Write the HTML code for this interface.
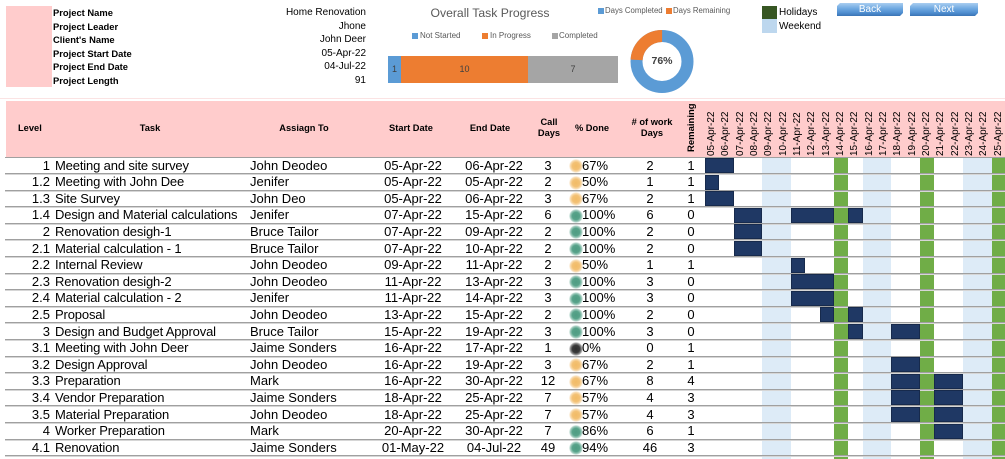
<!DOCTYPE html>
<html><head><meta charset="utf-8">
<style>
html,body{margin:0;padding:0;}
body{width:1005px;height:458px;overflow:hidden;position:relative;background:#fff;font-family:"Liberation Sans",Arial,sans-serif;color:#000;}
.a{position:absolute;white-space:nowrap;}
.pl{position:absolute;left:53px;font-size:9.4px;font-weight:bold;line-height:12px;}
.pv{position:absolute;left:250px;width:116px;text-align:right;font-size:10px;line-height:12px;}
.lg{position:absolute;font-size:8px;color:#595959;line-height:10px;white-space:nowrap;}
.sq{position:absolute;width:6px;height:6px;}
.hd{position:absolute;font-size:9.3px;font-weight:bold;line-height:11px;text-align:center;white-space:nowrap;}
.dh{position:absolute;top:103px;width:14.33px;height:53px;writing-mode:vertical-rl;transform:rotate(180deg);font-size:10px;line-height:14.33px;text-align:left;white-space:nowrap;}
.wk{position:absolute;top:157.5px;height:301px;width:28.66px;background:#DDEBF7;}
.hol{position:absolute;top:157.5px;height:301px;width:14.33px;background:#70AD47;}
.r{position:absolute;left:0;width:1005px;height:16.6px;font-size:13px;line-height:16px;}
.r::after{content:"";position:absolute;left:5px;right:0;bottom:0;height:1px;background:#a0a0a0;box-shadow:0 1px 0 #d6d6d6;}
.r span{position:absolute;top:0;white-space:nowrap;}
.lv{left:0;width:50px;text-align:right;}
.tk{left:55px;letter-spacing:-0.15px;}
.as{left:250px;}
.sd{left:373px;width:80px;text-align:center;}
.ed{left:454px;width:80px;text-align:center;}
.cd{left:528px;width:40px;text-align:center;}
.pd{left:582px;}
.wd{left:630px;width:40px;text-align:center;}
.rm{left:676px;width:30px;text-align:center;}
.dot{position:absolute;left:569px;top:1.5px;width:14px;height:14px;border-radius:50%;}
.y{background:radial-gradient(circle,#f1bb66 0%,#f3c175 38%,rgba(243,193,117,.55) 58%,rgba(243,193,117,0) 72%);}
.g{background:radial-gradient(circle,#4f9c82 0%,#57a38a 38%,rgba(87,163,138,.55) 58%,rgba(87,163,138,0) 72%);}
.k{background:radial-gradient(circle,#2e2e2e 0%,#3a3a3a 38%,rgba(58,58,58,.55) 58%,rgba(58,58,58,0) 72%);}
.b{position:absolute;top:0.6px;height:15px;background:#1F3864;box-shadow:inset 0 0 0 1px #172a4c;}
.btn{position:absolute;top:3px;height:13px;background:linear-gradient(to bottom,#a9cdf0 0%,#72abe2 40%,#4f8ed0 75%,#3a74b5 100%);color:#fff;font-size:10px;line-height:13px;text-align:center;box-shadow:1px 1px 2px rgba(0,0,0,.45);clip-path:polygon(3px 0,100% 0,100% calc(100% - 3px),calc(100% - 3px) 100%,0 100%,0 3px);}
</style></head><body>

<div class="a" style="left:6px;top:6px;width:46px;height:81px;background:#FFCCCC;"></div>
<div class="pl" style="top:7px;">Project Name</div>
<div class="pl" style="top:20.5px;">Project Leader</div>
<div class="pl" style="top:34px;">Client's Name</div>
<div class="pl" style="top:47.5px;">Project Start Date</div>
<div class="pl" style="top:61px;">Project End Date</div>
<div class="pl" style="top:74.5px;">Project Length</div>
<div class="pv" style="top:7px;">Home Renovation</div>
<div class="pv" style="top:20.5px;">Jhone</div>
<div class="pv" style="top:34px;">John Deer</div>
<div class="pv" style="top:47.5px;">05-Apr-22</div>
<div class="pv" style="top:61px;">04-Jul-22</div>
<div class="pv" style="top:74.5px;">91</div>

<div class="a" style="left:420px;top:6px;width:140px;text-align:center;font-size:12.2px;color:#595959;line-height:15px;">Overall Task Progress</div>
<div class="sq" style="left:412px;top:33px;background:#5B9BD5;"></div>
<div class="lg" style="left:420px;top:31px;">Not Started</div>
<div class="sq" style="left:482px;top:33px;background:#ED7D31;"></div>
<div class="lg" style="left:490px;top:31px;">In Progress</div>
<div class="sq" style="left:552px;top:33px;background:#A5A5A5;"></div>
<div class="lg" style="left:559px;top:31px;">Completed</div>
<div class="a" style="left:388px;top:56px;width:13px;height:27px;background:#5B9BD5;"></div>
<div class="a" style="left:401px;top:56px;width:127px;height:27px;background:#ED7D31;"></div>
<div class="a" style="left:528px;top:56px;width:90px;height:27px;background:#A5A5A5;"></div>
<div class="a" style="left:388px;top:64px;width:13px;text-align:center;font-size:9px;color:#404040;line-height:11px;">1</div>
<div class="a" style="left:401px;top:64px;width:127px;text-align:center;font-size:9px;color:#404040;line-height:11px;">10</div>
<div class="a" style="left:528px;top:64px;width:90px;text-align:center;font-size:9px;color:#404040;line-height:11px;">7</div>

<div class="sq" style="left:598px;top:8px;background:#5B9BD5;"></div>
<div class="lg" style="left:605px;top:6px;font-size:7.8px;">Days Completed</div>
<div class="sq" style="left:666px;top:8px;background:#ED7D31;"></div>
<div class="lg" style="left:673px;top:6px;font-size:7.8px;">Days Remaining</div>
<svg class="a" style="left:0;top:0;" width="1005" height="100" viewBox="0 0 1005 100">
<circle cx="662" cy="61.5" r="25.5" fill="none" stroke="#5B9BD5" stroke-width="12"/>
<circle cx="662" cy="61.5" r="25.5" fill="none" stroke="#ED7D31" stroke-width="12" stroke-dasharray="38.45 200" transform="rotate(183.6 662 61.5)"/>
</svg>
<div class="a" style="left:642px;top:55px;width:40px;text-align:center;font-size:10.5px;font-weight:bold;color:#404040;line-height:12px;">76%</div>

<div class="a" style="left:762px;top:6px;width:15px;height:13px;background:#375623;"></div>
<div class="a" style="left:762px;top:19px;width:15px;height:14px;background:#BDD7EE;"></div>
<div class="a" style="left:779px;top:7px;font-size:10px;line-height:12px;">Holidays</div>
<div class="a" style="left:779px;top:21px;font-size:10px;line-height:12px;">Weekend</div>

<div class="btn" style="left:837px;width:66px;">Back</div>
<div class="btn" style="left:910px;width:68px;">Next</div>

<div class="a" style="left:0;top:98px;width:1005px;height:1px;background:#fbe3e3;"></div>

<div class="a" style="left:6px;top:101px;width:999px;height:56.5px;background:#FFCCCC;"></div>
<div class="hd" style="left:18px;top:123px;">Level</div>
<div class="hd" style="left:120px;top:123px;width:60px;">Task</div>
<div class="hd" style="left:264px;top:123px;width:80px;">Assiagn To</div>
<div class="hd" style="left:371px;top:123px;width:80px;">Start Date</div>
<div class="hd" style="left:450px;top:123px;width:80px;">End Date</div>
<div class="hd" style="left:529px;top:117px;width:40px;">Call<br>Days</div>
<div class="hd" style="left:567px;top:123px;width:50px;">% Done</div>
<div class="hd" style="left:617px;top:117px;width:70px;">#&nbsp;of work<br>Days</div>
<div class="dh" style="left:684px;top:101px;height:51px;width:16px;line-height:16px;font-size:9.5px;font-weight:bold;">Remaining</div>

<div class="dh" style="left:705px;">05-Apr-22</div>
<div class="dh" style="left:719.33px;">06-Apr-22</div>
<div class="dh" style="left:733.66px;">07-Apr-22</div>
<div class="dh" style="left:747.99px;">08-Apr-22</div>
<div class="dh" style="left:762.32px;">09-Apr-22</div>
<div class="dh" style="left:776.65px;">10-Apr-22</div>
<div class="dh" style="left:790.98px;">11-Apr-22</div>
<div class="dh" style="left:805.31px;">12-Apr-22</div>
<div class="dh" style="left:819.64px;">13-Apr-22</div>
<div class="dh" style="left:833.97px;">14-Apr-22</div>
<div class="dh" style="left:848.3px;">15-Apr-22</div>
<div class="dh" style="left:862.63px;">16-Apr-22</div>
<div class="dh" style="left:876.96px;">17-Apr-22</div>
<div class="dh" style="left:891.29px;">18-Apr-22</div>
<div class="dh" style="left:905.62px;">19-Apr-22</div>
<div class="dh" style="left:919.95px;">20-Apr-22</div>
<div class="dh" style="left:934.28px;">21-Apr-22</div>
<div class="dh" style="left:948.61px;">22-Apr-22</div>
<div class="dh" style="left:962.94px;">23-Apr-22</div>
<div class="dh" style="left:977.27px;">24-Apr-22</div>
<div class="dh" style="left:991.6px;">25-Apr-22</div>

<div class="wk" style="left:762.32px;"></div>
<div class="wk" style="left:862.63px;"></div>
<div class="wk" style="left:962.94px;"></div>
<div class="hol" style="left:833.97px;"></div>
<div class="hol" style="left:919.95px;"></div>
<div class="hol" style="left:991.6px;"></div>

<div class="a" style="left:5px;top:156.8px;width:1000px;height:1px;background:#a0a0a0;"></div>

<div class="r" style="top:157.5px;"><span class="lv">1</span><span class="tk">Meeting and site survey</span><span class="as">John Deodeo</span><span class="sd">05-Apr-22</span><span class="ed">06-Apr-22</span><span class="cd">3</span><i class="dot y"></i><span class="pd">67%</span><span class="wd">2</span><span class="rm">1</span>
<i class="b" style="left:705px;width:28.66px;"></i></div>

<div class="r" style="top:174.1px;"><span class="lv">1.2</span><span class="tk">Meeting with John Dee</span><span class="as">Jenifer</span><span class="sd">05-Apr-22</span><span class="ed">05-Apr-22</span><span class="cd">2</span><i class="dot y"></i><span class="pd">50%</span><span class="wd">1</span><span class="rm">1</span>
<i class="b" style="left:705px;width:14.33px;"></i></div>

<div class="r" style="top:190.7px;"><span class="lv">1.3</span><span class="tk">Site Survey</span><span class="as">John Deo</span><span class="sd">05-Apr-22</span><span class="ed">06-Apr-22</span><span class="cd">3</span><i class="dot y"></i><span class="pd">67%</span><span class="wd">2</span><span class="rm">1</span>
<i class="b" style="left:705px;width:28.66px;"></i></div>

<div class="r" style="top:207.3px;"><span class="lv">1.4</span><span class="tk">Design and Material calculations</span><span class="as">Jenifer</span><span class="sd">07-Apr-22</span><span class="ed">15-Apr-22</span><span class="cd">6</span><i class="dot g"></i><span class="pd">100%</span><span class="wd">6</span><span class="rm">0</span>
<i class="b" style="left:733.66px;width:28.66px;"></i><i class="b" style="left:790.98px;width:43px;"></i><i class="b" style="left:848.3px;width:14.33px;"></i></div>

<div class="r" style="top:223.9px;"><span class="lv">2</span><span class="tk">Renovation desigh-1</span><span class="as">Bruce Tailor</span><span class="sd">07-Apr-22</span><span class="ed">09-Apr-22</span><span class="cd">2</span><i class="dot g"></i><span class="pd">100%</span><span class="wd">2</span><span class="rm">0</span>
<i class="b" style="left:733.66px;width:28.66px;"></i></div>

<div class="r" style="top:240.5px;"><span class="lv">2.1</span><span class="tk">Material calculation - 1</span><span class="as">Bruce Tailor</span><span class="sd">07-Apr-22</span><span class="ed">10-Apr-22</span><span class="cd">2</span><i class="dot g"></i><span class="pd">100%</span><span class="wd">2</span><span class="rm">0</span>
<i class="b" style="left:733.66px;width:28.66px;"></i></div>

<div class="r" style="top:257.1px;"><span class="lv">2.2</span><span class="tk">Internal Review</span><span class="as">John Deodeo</span><span class="sd">09-Apr-22</span><span class="ed">11-Apr-22</span><span class="cd">2</span><i class="dot y"></i><span class="pd">50%</span><span class="wd">1</span><span class="rm">1</span>
<i class="b" style="left:790.98px;width:14.33px;"></i></div>

<div class="r" style="top:273.7px;"><span class="lv">2.3</span><span class="tk">Renovation desigh-2</span><span class="as">John Deodeo</span><span class="sd">11-Apr-22</span><span class="ed">13-Apr-22</span><span class="cd">3</span><i class="dot g"></i><span class="pd">100%</span><span class="wd">3</span><span class="rm">0</span>
<i class="b" style="left:790.98px;width:43px;"></i></div>

<div class="r" style="top:290.3px;"><span class="lv">2.4</span><span class="tk">Material calculation - 2</span><span class="as">Jenifer</span><span class="sd">11-Apr-22</span><span class="ed">14-Apr-22</span><span class="cd">3</span><i class="dot g"></i><span class="pd">100%</span><span class="wd">3</span><span class="rm">0</span>
<i class="b" style="left:790.98px;width:43px;"></i></div>

<div class="r" style="top:306.9px;"><span class="lv">2.5</span><span class="tk">Proposal</span><span class="as">John Deodeo</span><span class="sd">13-Apr-22</span><span class="ed">15-Apr-22</span><span class="cd">2</span><i class="dot g"></i><span class="pd">100%</span><span class="wd">2</span><span class="rm">0</span>
<i class="b" style="left:819.64px;width:14.33px;"></i><i class="b" style="left:848.3px;width:14.33px;"></i></div>

<div class="r" style="top:323.5px;"><span class="lv">3</span><span class="tk">Design and Budget Approval</span><span class="as">Bruce Tailor</span><span class="sd">15-Apr-22</span><span class="ed">19-Apr-22</span><span class="cd">3</span><i class="dot g"></i><span class="pd">100%</span><span class="wd">3</span><span class="rm">0</span>
<i class="b" style="left:848.3px;width:14.33px;"></i><i class="b" style="left:891.29px;width:28.66px;"></i></div>

<div class="r" style="top:340.1px;"><span class="lv">3.1</span><span class="tk">Meeting with John Deer</span><span class="as">Jaime Sonders</span><span class="sd">16-Apr-22</span><span class="ed">17-Apr-22</span><span class="cd">1</span><i class="dot k"></i><span class="pd">0%</span><span class="wd">0</span><span class="rm">1</span></div>

<div class="r" style="top:356.7px;"><span class="lv">3.2</span><span class="tk">Design Approval</span><span class="as">John Deodeo</span><span class="sd">16-Apr-22</span><span class="ed">19-Apr-22</span><span class="cd">3</span><i class="dot y"></i><span class="pd">67%</span><span class="wd">2</span><span class="rm">1</span>
<i class="b" style="left:891.29px;width:28.66px;"></i></div>

<div class="r" style="top:373.3px;"><span class="lv">3.3</span><span class="tk">Preparation</span><span class="as">Mark</span><span class="sd">16-Apr-22</span><span class="ed">30-Apr-22</span><span class="cd">12</span><i class="dot y"></i><span class="pd">67%</span><span class="wd">8</span><span class="rm">4</span>
<i class="b" style="left:891.29px;width:28.66px;"></i><i class="b" style="left:934.28px;width:28.66px;"></i></div>

<div class="r" style="top:389.9px;"><span class="lv">3.4</span><span class="tk">Vendor Preparation</span><span class="as">Jaime Sonders</span><span class="sd">18-Apr-22</span><span class="ed">25-Apr-22</span><span class="cd">7</span><i class="dot y"></i><span class="pd">57%</span><span class="wd">4</span><span class="rm">3</span>
<i class="b" style="left:891.29px;width:28.66px;"></i><i class="b" style="left:934.28px;width:28.66px;"></i></div>

<div class="r" style="top:406.5px;"><span class="lv">3.5</span><span class="tk">Material Preparation</span><span class="as">John Deodeo</span><span class="sd">18-Apr-22</span><span class="ed">25-Apr-22</span><span class="cd">7</span><i class="dot y"></i><span class="pd">57%</span><span class="wd">4</span><span class="rm">3</span>
<i class="b" style="left:891.29px;width:28.66px;"></i><i class="b" style="left:934.28px;width:28.66px;"></i></div>

<div class="r" style="top:423.1px;"><span class="lv">4</span><span class="tk">Worker Preparation</span><span class="as">Mark</span><span class="sd">20-Apr-22</span><span class="ed">30-Apr-22</span><span class="cd">7</span><i class="dot g"></i><span class="pd">86%</span><span class="wd">6</span><span class="rm">1</span>
<i class="b" style="left:934.28px;width:28.66px;"></i></div>

<div class="r" style="top:439.7px;"><span class="lv">4.1</span><span class="tk">Renovation</span><span class="as">Jaime Sonders</span><span class="sd">01-May-22</span><span class="ed">04-Jul-22</span><span class="cd">49</span><i class="dot g"></i><span class="pd">94%</span><span class="wd">46</span><span class="rm">3</span></div>

</body></html>
